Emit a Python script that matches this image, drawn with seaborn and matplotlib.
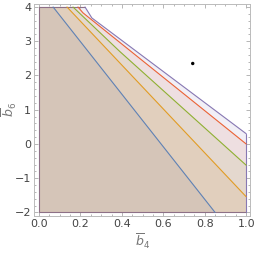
import numpy as np
import matplotlib
matplotlib.use("Agg")
import matplotlib.pyplot as plt
from matplotlib.ticker import MultipleLocator
import seaborn as sns

# boundary curves of the regions (b4, b6)
blue_x = [0.068, 0.85]
blue_y = [4.0, -2.0]
orange_x = [0.135, 1.0]
orange_y = [4.0, -1.54]
green_x = [0.164, 0.39, 1.0]
green_y = [4.0, 2.70, -0.62]
red_x = [0.188, 0.212, 1.0]
red_y = [4.0, 3.83, 0.0]
purple_x = [0.222, 0.255, 1.0]
purple_y = [4.0, 3.68, 0.30]

# the marked point
point_x = [0.742]
point_y = [2.35]

x_min, x_max = 0.0, 1.0
y_min, y_max = -2.0, 4.0
x_ticks = [0.0, 0.2, 0.4, 0.6, 0.8, 1.0]
y_ticks = [-2, -1, 0, 1, 2, 3, 4]

sns.set_style("ticks")
plt.rcParams['font.family'] = ['DejaVu Sans']

colors = ['#5E81B5', '#E19C24', '#8FB032', '#EB6235', '#8778B3']
curves = [(blue_x, blue_y), (orange_x, orange_y), (green_x, green_y),
          (red_x, red_y), (purple_x, purple_y)]

fig = plt.figure(figsize=(2.56, 2.54), dpi=100)
ax = fig.add_axes([0.133, 0.150, 0.844, 0.836])

for (bx, by), c in zip(curves, colors):
    # region: left edge, top edge, the curve, then down to the bottom
    px = [x_min, x_min] + bx
    py = [y_min, y_max] + by
    if by[-1] > y_min:
        px = px + [x_max]
        py = py + [y_min]
    ax.fill(px, py, color=c, alpha=0.115, lw=0)

# outer edges shared by all regions
ax.plot([x_max, x_min, x_min, purple_x[0]], [y_min, y_min, y_max, y_max],
        color='#8d7086', lw=0.8, solid_joinstyle='miter')
ax.plot([x_max, x_max], [y_min, purple_y[-1]], color=colors[4], lw=0.8)

for (bx, by), c in zip(curves, colors):
    sns.lineplot(x=bx, y=by, color=c, lw=0.8, ax=ax, sort=False,
                 estimator=None)

sns.scatterplot(x=point_x, y=point_y, color='black', s=6, ax=ax,
                edgecolor='none', zorder=5)

ax.set_xlim(-0.024, 1.019)
ax.set_ylim(-2.1, 4.1)
ax.set_xticks(x_ticks)
ax.set_xticklabels([f"{t:.1f}" for t in x_ticks])
ax.set_yticks(y_ticks)
ax.xaxis.set_minor_locator(MultipleLocator(0.05))
ax.yaxis.set_minor_locator(MultipleLocator(0.2))
ax.tick_params(which='both', direction='in', top=True, right=True,
               color='#aaaaaa', width=0.6, labelsize=8, labelcolor='#444444',
               pad=2)
ax.tick_params(which='major', length=3)
ax.tick_params(which='minor', length=1.6)
for s in ax.spines.values():
    s.set_color('#bbbbbb')
    s.set_linewidth(0.7)

ax.set_xlabel(r'$\overline{b}_4$', fontsize=9, color='#777777')
ax.set_ylabel(r'$\overline{b}_6$', fontsize=9, color='#777777')
ax.xaxis.set_label_coords(0.5, -0.075)
ax.yaxis.set_label_coords(-0.068, 0.5)

fig.savefig('out.png', dpi=100)
